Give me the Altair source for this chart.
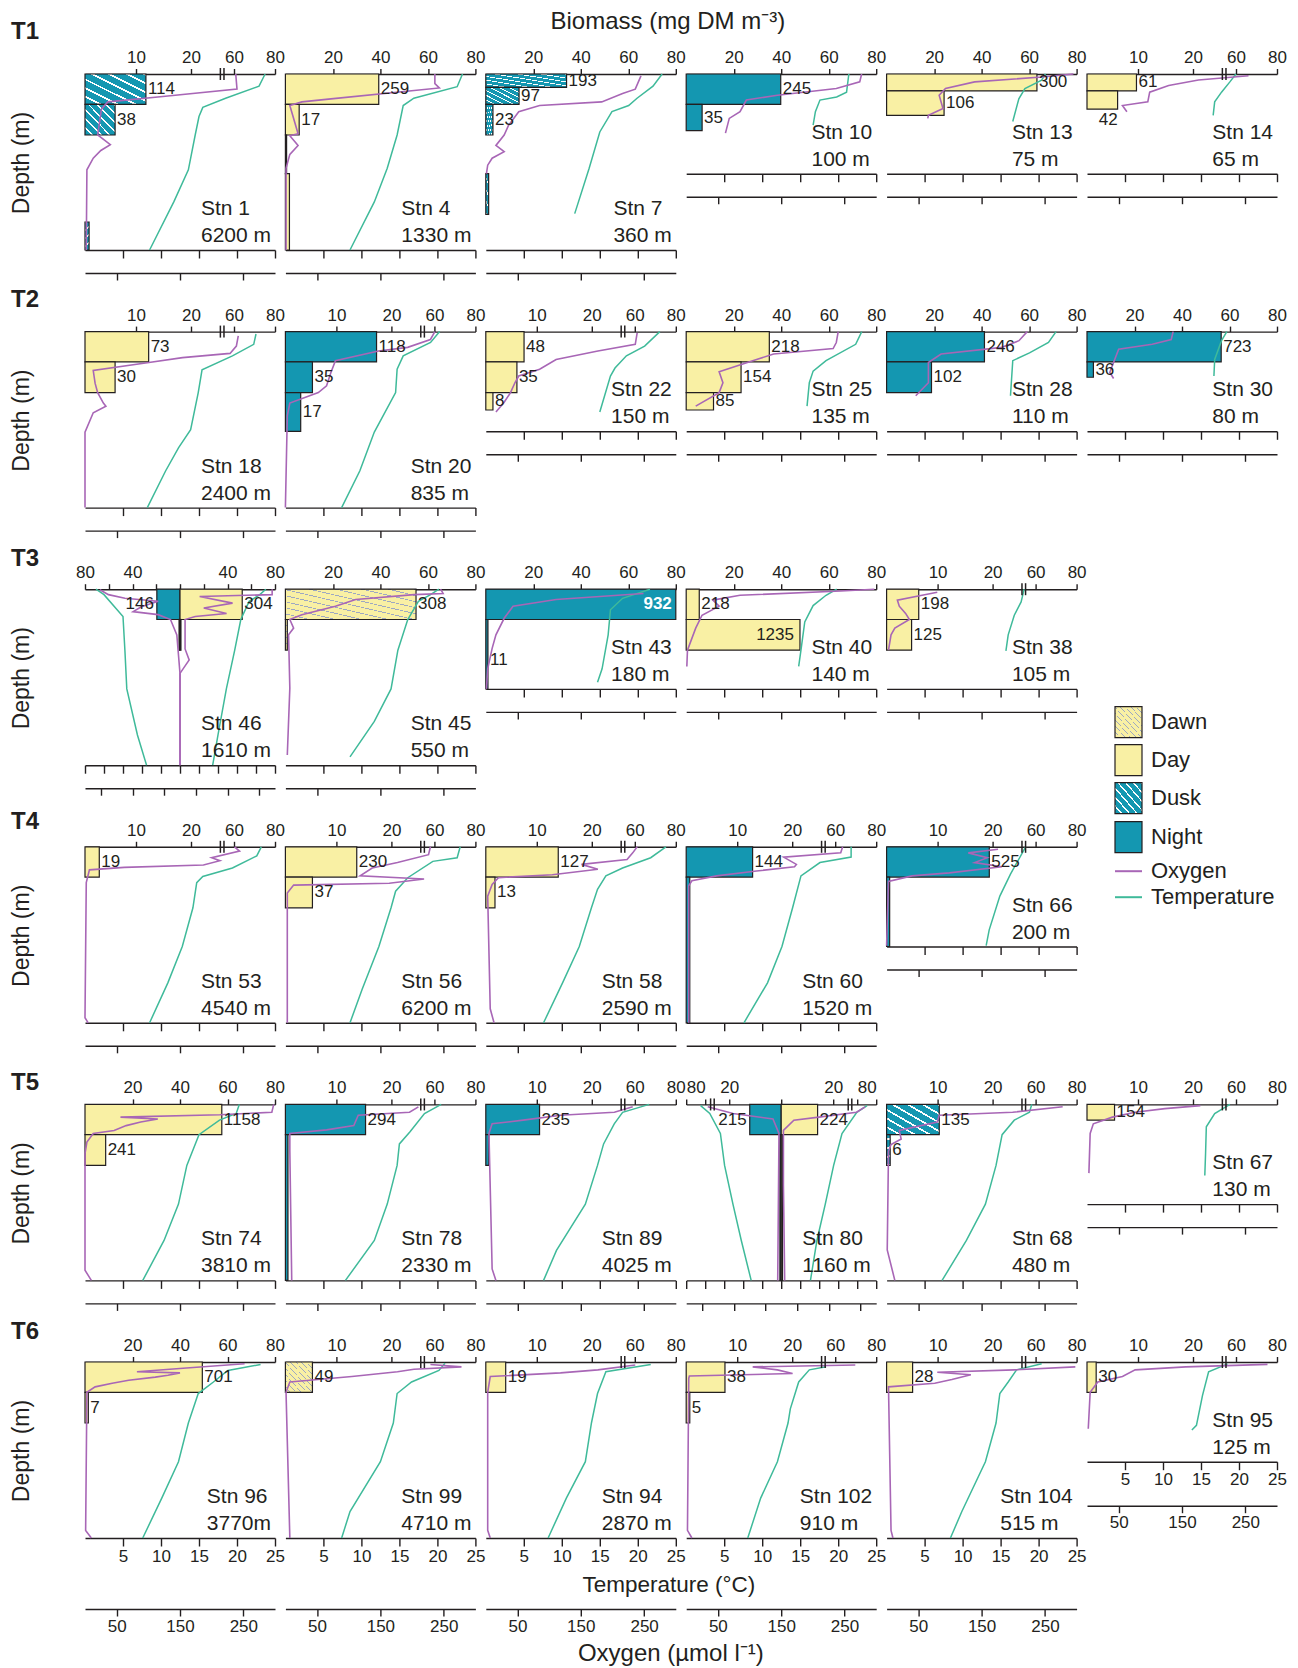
import altair as alt
import pandas as pd

FONT = "Liberation Sans"
INK = "#231f20"
DAY_C = "#f9f0a4"
NIGHT_C = "#1497b1"
OXY_C = "#a866b6"
TEMP_C = "#3fba9a"
HATCH_DAWN = "#9ea8c2"

# ------------------------------------------------------------------ data
ROW_LABELS = ["T1", "T2", "T3", "T4", "T5", "T6"]
ROW_STATIONS = [
    [1, 4, 7, 10, 13, 14],
    [18, 20, 22, 25, 28, 30],
    [46, 45, 43, 40, 38],
    [53, 56, 58, 60, 66],
    [74, 78, 89, 80, 68, 67],
    [96, 99, 94, 102, 104, 95],
]
BOTTOM_DEPTH = {
    1: "6200 m", 4: "1330 m", 7: "360 m", 10: "100 m", 13: "75 m", 14: "65 m",
    18: "2400 m", 20: "835 m", 22: "150 m", 25: "135 m", 28: "110 m", 30: "80 m",
    46: "1610 m", 45: "550 m", 43: "180 m", 40: "140 m", 38: "105 m",
    53: "4540 m", 56: "6200 m", 58: "2590 m", 60: "1520 m", 66: "200 m",
    74: "3810 m", 78: "2330 m", 89: "4025 m", 80: "1160 m", 68: "480 m", 67: "130 m",
    96: "3770m", 99: "4710 m", 94: "2870 m", 102: "910 m", 104: "515 m", 95: "125 m",
}
SHALLOW_STATIONS = [10, 13, 14, 22, 25, 28, 30, 43, 40, 38, 66, 67, 95]
LINEAR_AXIS_STATIONS = [4, 7, 10, 13, 25, 28, 30, 45, 43, 40, 74, 96]
MIRRORED_STATIONS = {46: "mlin", 80: "mbrk"}

# bars: (station, top depth, bottom depth, biomass, label, phase)
BARS_T1 = [
    (1, 0, 50, 11.8, "114", "Dusk"), (1, 50, 100, 5.9, "38", "Dusk"), (1, 390, 500, 0.8, "", "Dusk"),
    (4, 0, 50, 39.3, "259", "Day"), (4, 50, 100, 5.8, "17", "Day"), (4, 100, 200, 0.5, "", "Day"),
    (4, 200, 500, 1.7, "", "Day"),
    (7, 0, 22, 34.0, "193", "Dusk"), (7, 22, 50, 14.0, "97", "Dusk"), (7, 50, 100, 3.0, "23", "Dusk"),
    (7, 200, 360, 1.2, "", "Dusk"),
    (10, 0, 50, 39.8, "245", "Night"), (10, 50, 93, 6.7, "35", "Night"),
    (13, 0, 28, 63.3, "300", "Day"), (13, 28, 68, 24.2, "106", "Day"),
    (14, 0, 28, 9.7, "61", "Day"), (14, 28, 58, 6.0, "42", "Day"),
]
BARS_T2 = [
    (18, 0, 50, 12.3, "73", "Day"), (18, 50, 100, 5.9, "30", "Day"),
    (20, 0, 50, 17.3, "118", "Night"), (20, 50, 100, 5.3, "35", "Night"), (20, 100, 200, 3.0, "17", "Night"),
    (22, 0, 50, 7.5, "48", "Day"), (22, 50, 100, 6.1, "35", "Day"), (22, 100, 145, 1.4, "8", "Day"),
    (25, 0, 50, 35.0, "218", "Day"), (25, 50, 100, 23.1, "154", "Day"), (25, 100, 145, 11.5, "85", "Day"),
    (28, 0, 50, 41.2, "246", "Night"), (28, 50, 100, 18.9, "102", "Night"),
    (30, 0, 50, 56.5, "723", "Night"), (30, 50, 75, 2.7, "36", "Night"),
]
BARS_T3 = [
    (46, 0, 50, -19.5, "146", "Night"), (46, 0, 50, 52.4, "304", "Day"),
    (46, 50, 100, -0.8, "", "Night"), (46, 50, 100, 0.8, "", "Day"),
    (45, 0, 50, 55.0, "308", "Dawn"), (45, 50, 100, 0.8, "", "Dawn"),
    (43, 0, 50, 80.0, "932", "Night"), (43, 50, 200, 0.9, "11", "Night"),
    (40, 0, 50, 5.5, "218", "Day"), (40, 50, 100, 47.9, "1235", "Day"),
    (38, 0, 50, 6.3, "198", "Day"), (38, 50, 100, 4.9, "125", "Day"),
]
BARS_T4 = [
    (53, 0, 50, 2.8, "19", "Day"),
    (56, 0, 50, 13.7, "230", "Day"), (56, 50, 100, 5.3, "37", "Day"),
    (58, 0, 50, 13.9, "127", "Day"), (58, 50, 100, 1.8, "13", "Day"),
    (60, 0, 50, 12.8, "144", "Night"), (60, 50, 500, 0.7, "", "Night"),
    (66, 0, 50, 19.4, "525", "Night"), (66, 50, 200, 0.6, "", "Night"),
]
BARS_T5 = [
    (74, 0, 50, 57.6, "1158", "Day"), (74, 50, 100, 8.7, "241", "Day"),
    (78, 0, 50, 15.3, "294", "Night"), (78, 50, 500, 0.5, "", "Night"),
    (89, 0, 50, 10.5, "235", "Night"), (89, 50, 100, 0.6, "", "Night"),
    (80, 0, 50, -12.1, "215", "Night"), (80, 0, 50, 14.0, "224", "Day"),
    (80, 50, 500, -0.5, "", "Night"), (80, 50, 500, 0.5, "", "Day"),
    (68, 0, 50, 10.3, "135", "Dusk"), (68, 50, 100, 0.7, "6", "Dusk"),
    (67, 0, 26, 5.4, "154", "Day"),
]
BARS_T6 = [
    (96, 0, 50, 49.4, "701", "Day"), (96, 50, 100, 1.4, "7", "Day"),
    (99, 0, 50, 5.3, "49", "Dawn"),
    (94, 0, 50, 3.9, "19", "Day"),
    (102, 0, 50, 7.6, "38", "Day"), (102, 50, 100, 0.7, "5", "Day"),
    (104, 0, 50, 5.1, "28", "Day"),
    (95, 0, 50, 1.8, "30", "Day"),
]
LABEL_INSIDE = {(40, "1235"): "in", (43, "932"): "inw"}
LABEL_BELOW = [(14, "42")]

# oxygen profiles (depth m, umol/l)
O2_T1 = {
    1: [(0, 238), (25, 240), (38, 115), (46, 36), (58, 26), (100, 20), (125, 40), (140, 25), (160, 13), (190, 3), (500, 2)],
    4: [(0, 236), (16, 236), (23, 243), (41, 72), (46, 26), (52, 7), (98, 20), (102, 7), (127, 20), (150, 7), (186, 1), (500, 1)],
    7: [(3, 245), (25, 236), (32, 216), (46, 183), (52, 85), (62, 52), (84, 36), (100, 29), (127, 16), (143, 29), (160, 10), (178, 3), (200, 1)],
    10: [(0, 277), (13, 274), (24, 237), (35, 144), (43, 95), (62, 85), (73, 68), (97, 62)],
    13: [(0, 295), (5, 245), (13, 139), (24, 93), (35, 83), (57, 89), (68, 66), (73, 65)],
    14: [(3, 255), (10, 176), (19, 129), (30, 99), (46, 96), (52, 56), (62, 63)],
}
O2_T2 = {
    18: [(7, 242), (24, 239), (36, 229), (43, 154), (51, 101), (64, 13), (85, 16), (100, 20), (127, 29), (135, 33), (152, 13), (203, 0), (500, 0)],
    20: [(0, 236), (13, 229), (26, 193), (32, 147), (48, 79), (67, 72), (89, 65), (100, 52), (127, 7), (160, 3), (500, 0)],
    22: [(2, 239), (21, 236), (32, 177), (46, 111), (62, 85), (73, 52), (84, 46), (100, 39), (125, 29), (150, 16)],
    25: [(0, 240), (18, 237), (28, 232), (37, 138), (48, 105), (66, 52), (84, 58), (100, 52), (135, 15)],
    28: [(0, 222), (15, 209), (26, 182), (37, 86), (51, 66), (84, 66), (108, 46)],
    30: [(0, 136), (13, 133), (21, 103), (29, 50), (48, 43), (67, 36), (77, 42)],
}
O2_T3 = {
    46: [(0, 291), (9, 291), (12, 62), (23, 166), (31, 75), (40, 147), (45, 48), (50, 16), (98, 16), (125, 29), (160, 0), (500, 0)],
    45: [(0, 245), (7, 249), (9, 203), (17, 111), (28, 79), (42, 26), (50, 7), (64, 13), (75, 5), (198, 7), (460, 3)],
    43: [(7, 249), (17, 111), (28, 43), (48, 29), (75, 16), (97, 10), (148, 3), (200, 1)],
    40: [(0, 297), (3, 244), (10, 85), (18, 42), (28, 52), (43, 25), (64, 15), (100, 2), (142, 1)],
    38: [(5, 80), (10, 56), (18, 17), (28, 20), (40, 30), (50, 36), (64, 13), (75, 7), (100, 3)],
}
O2_T4 = {
    53: [(0, 236), (7, 244), (18, 200), (23, 213), (30, 187), (34, 62), (38, 7), (59, 2), (480, 0), (500, 5)],
    56: [(0, 229), (13, 226), (26, 177), (35, 137), (48, 118), (53, 219), (60, 164), (63, 13), (76, 3), (500, 3)],
    58: [(0, 239), (10, 232), (21, 223), (29, 151), (37, 177), (46, 105), (51, 20), (62, 10), (81, 3), (445, 7), (500, 13)],
    60: [(0, 247), (10, 244), (17, 154), (29, 174), (33, 171), (40, 111), (48, 48), (56, 9), (64, 4), (500, 4)],
    66: [(4, 176), (10, 129), (18, 159), (26, 139), (33, 182), (43, 99), (48, 40), (57, 3), (198, 0)],
}
O2_T5 = {
    74: [(0, 298), (13, 295), (17, 213), (21, 56), (24, 115), (29, 88), (35, 65), (43, 46), (48, 13), (62, 3), (81, 0), (460, 0), (500, 10)],
    78: [(4, 210), (13, 196), (18, 115), (35, 108), (42, 65), (48, 7), (76, 7), (500, 10)],
    89: [(4, 232), (13, 203), (18, 118), (26, 59), (32, 10), (48, 5), (455, 10), (500, 16)],
    80: [(4, 265), (13, 238), (21, 119), (26, 40), (43, 7), (150, 7), (500, 11)],
    68: [(4, 278), (13, 199), (18, 83), (29, 80), (43, 20), (57, 23), (66, 7), (77, 3), (380, 1), (500, 13)],
    67: [(2, 179), (7, 123), (13, 76), (21, 40), (32, 10), (48, 5), (120, 3)],
}
O2_T6 = {
    96: [(3, 252), (10, 160), (16, 82), (18, 150), (22, 131), (25, 111), (30, 69), (35, 43), (41, 16), (50, 3), (470, 1), (500, 10)],
    99: [(4, 229), (8, 278), (12, 203), (16, 177), (24, 105), (33, 7), (50, 1), (500, 7)],
    94: [(5, 236), (13, 177), (18, 118), (24, 7), (50, 3), (470, 3), (500, 7)],
    102: [(5, 267), (8, 105), (13, 144), (19, 168), (23, 5), (27, 4), (470, 2), (500, 9)],
    104: [(8, 298), (13, 202), (17, 80), (21, 133), (29, 103), (35, 76), (41, 3), (470, 7), (500, 10)],
    95: [(4, 285), (8, 156), (13, 76), (24, 56), (33, 17), (50, 5), (115, 2)],
}
# left-hand (night) halves of the mirrored panels
O2_MIRROR_LEFT = {
    46: [(1, 253), (9, 226), (15, 174), (20, 69), (29, 122), (37, 148), (42, 69), (50, 30), (75, 10), (160, 0), (500, 0)],
    80: [(4, 232), (15, 152), (24, 26), (48, 7), (500, 11)],
}

# temperature profiles (depth m, deg C)
TEMP_T1 = {
    1: [(0, 23.7), (20, 22.9), (40, 18.5), (55, 15.5), (70, 15), (100, 14.5), (190, 13.6), (310, 11.7), (500, 8.5)],
    4: [(0, 23.3), (21, 22.6), (40, 16.9), (52, 15.5), (100, 14.7), (186, 13.4), (311, 11.7), (500, 8.5)],
    7: [(0, 23.2), (20, 22), (40, 19.9), (52, 18.8), (62, 16.6), (95, 15), (186, 13.6), (357, 11.7)],
    10: [(0, 21.4), (30, 21.1), (38, 19.8), (43, 17.6), (62, 17), (84, 16.7)],
    13: [(0, 20.9), (10, 20.4), (24, 18.2), (41, 17.4), (78, 16.6)],
    14: [(0, 19.6), (13, 18.8), (30, 17.7), (46, 16.8), (68, 16.6)],
}
TEMP_T2 = {
    18: [(4, 22.5), (21, 22.2), (40, 19.4), (63, 15.4), (100, 14.9), (196, 13.9), (265, 12.3), (356, 10.6), (500, 8.2)],
    20: [(0, 20.3), (18, 19.1), (40, 15.5), (62, 14.7), (100, 14.5), (203, 11.7), (355, 9.8), (500, 7.4)],
    22: [(0, 22.9), (24, 20.9), (40, 18.5), (60, 17), (73, 16.4), (150, 15)],
    25: [(0, 23.1), (21, 22.3), (48, 18.4), (65, 16.7), (84, 16.2), (135, 15.9)],
    28: [(0, 22.3), (18, 21.3), (35, 18.8), (48, 16.6), (108, 16.3)],
    30: [(0, 18.4), (15, 17.7), (46, 16.8), (73, 16.7)],
}
TEMP_T3 = {
    46: [(0, 22.6), (9, 21), (20, 18.2), (50, 16), (100, 14.4), (200, 12.2), (381, 10), (500, 8.6)],
    45: [(0, 20.2), (9, 19.1), (20, 17.5), (50, 16.1), (100, 14.8), (200, 13.9), (328, 11.7), (467, 8.5)],
    43: [(0, 21.6), (15, 18), (34, 16.4), (75, 16.1), (148, 15.3), (183, 14.7)],
    40: [(0, 19.8), (10, 18.4), (27, 16.7), (54, 15.6), (100, 15.1), (142, 14.8)],
    38: [(0, 18.1), (21, 17.7), (43, 16.8), (75, 16), (102, 15.7)],
}
TEMP_T4 = {
    53: [(0, 23.2), (15, 22.6), (35, 19.4), (49, 15.5), (59, 14.7), (100, 14.2), (200, 12.8), (343, 10.9), (500, 8.5)],
    56: [(0, 23), (18, 22.6), (24, 19.4), (51, 16.1), (73, 14.5), (100, 13.9), (200, 12.3), (368, 10.1), (500, 8.5)],
    58: [(0, 23.7), (18, 21.7), (35, 18), (48, 15.8), (70, 14.7), (100, 13.9), (200, 12.3), (343, 10.1), (500, 7.6)],
    60: [(0, 21.7), (17, 21.7), (26, 17.6), (48, 15.1), (100, 14), (200, 12.6), (343, 10.7), (500, 7.6)],
    66: [(0, 18.3), (45, 16.3), (81, 14.9), (157, 13.5), (198, 13.1)],
}
TEMP_T5 = {
    74: [(0, 20.3), (15, 19.9), (26, 17.7), (50, 15), (100, 13.4), (200, 12.3), (343, 10.4), (500, 7.6)],
    78: [(0, 20.5), (15, 18.3), (45, 16.4), (65, 15), (100, 14.7), (200, 13.4), (343, 11.7), (500, 7.9)],
    89: [(0, 21.5), (13, 18), (32, 16.9), (65, 15.5), (100, 14.7), (200, 13.1), (382, 9.3), (500, 7.6)],
    80: [(2, 22.6), (13, 19.9), (48, 16), (100, 13.8), (200, 11.6), (343, 9.4), (500, 7.7)],
    68: [(0, 19.1), (13, 18.8), (26, 16.8), (50, 15.2), (100, 14.4), (200, 13), (343, 10.5), (500, 7.3)],
    67: [(0, 18.8), (15, 16.8), (37, 15.7), (81, 15.6), (126, 15.5)],
}
TEMP_T6 = {
    96: [(4, 23.1), (14, 18.8), (33, 16.9), (52, 14.9), (100, 13.6), (200, 12.3), (343, 10.1), (500, 7.6)],
    99: [(2, 21), (14, 20.2), (33, 16.6), (52, 14.7), (100, 14.2), (200, 12.5), (396, 8.5), (500, 7.4)],
    94: [(4, 21.7), (16, 15.8), (52, 14.7), (100, 13.9), (200, 13.1), (343, 10.6), (500, 8.2)],
    102: [(8, 18.4), (13, 16.2), (33, 14.8), (77, 13.7), (100, 13.4), (200, 12), (343, 9.8), (500, 8.1)],
    104: [(3, 20.4), (13, 17.1), (33, 16), (52, 14.9), (100, 14.4), (200, 13), (396, 9.9), (500, 8.4)],
    95: [(3, 18.5), (16, 16), (55, 15.2), (106, 14.4), (118, 13.8)],
}
TEMP_MIRROR_LEFT = {
    46: [(0, 22.1), (9, 20), (45, 15), (100, 14.5), (200, 14), (381, 11.2), (500, 8.8)],
    80: [(2, 21.2), (15, 18.8), (48, 16), (100, 14.9), (200, 12.7), (343, 10.5), (500, 7.9)],
}

LEGEND_ITEMS = ["Dawn", "Day", "Dusk", "Night", "Oxygen", "Temperature"]

# ------------------------------------------------------------------ helpers
O2 = {**O2_T1, **O2_T2, **O2_T3, **O2_T4, **O2_T5, **O2_T6}
TEMP = {**TEMP_T1, **TEMP_T2, **TEMP_T3, **TEMP_T4, **TEMP_T5, **TEMP_T6}

bar_df = pd.DataFrame(BARS_T1 + BARS_T2 + BARS_T3 + BARS_T4 + BARS_T5 + BARS_T6,
                      columns=["stn", "d0", "d1", "bio", "label", "phase"])
bar_df["base"] = 0.0
bar_df["mid"] = (bar_df.d0 + bar_df.d1) / 2


def label_mode(row):
    key = (row.stn, row.label)
    if key in LABEL_INSIDE:
        return LABEL_INSIDE[key]
    if key in LABEL_BELOW:
        return "below"
    return "left" if row.bio < 0 else "right"


bar_df["mode"] = bar_df.apply(label_mode, axis=1)

W = 190
ONE = pd.DataFrame({"a": [0]})

CW = {"S": 0.667, "t": 0.278, "n": 0.556, " ": 0.278, "m": 0.833}


def text_w(s, size):
    return sum(CW.get(ch, 0.556) for ch in s) * size


def stripes(base, line, n, w):
    stops = []
    for i in range(n):
        a = i / n
        b = (i + 1 - w) / n
        c = (i + 1) / n
        stops += [alt.GradientStop(offset=a, color=base), alt.GradientStop(offset=b, color=base),
                  alt.GradientStop(offset=b, color=line), alt.GradientStop(offset=c, color=line)]
    return alt.LinearGradient(gradient="linear", stops=stops, x1=0, y1=1, x2=1, y2=0)


DUSK_FILL = stripes(NIGHT_C, "#ffffff", 7, 0.22)
DAWN_FILL = stripes(DAY_C, HATCH_DAWN, 10, 0.14)

BIO = {
    "lin": ([0, 80], [0, 190], [20, 40, 60, 80], [], None),
    "brk": ([0, 10, 20, 60, 80], [0, 51, 106, 149, 190], [10, 20, 60, 80], [49], None),
    "mlin": ([-80, 80], [0, 190], list(range(-80, 81, 20)), [],
             "abs(datum.value) == 40 || abs(datum.value) == 80 ? '' + abs(datum.value) : ''"),
    "mbrk": ([-80, -60, -20, 0, 20, 60, 80], [0, 19, 43, 95, 147, 171, 190], [-80, -60, -20, 0, 20, 60, 80],
             [-48, 48], "abs(datum.value) == 20 || abs(datum.value) == 80 ? '' + abs(datum.value) : ''"),
}
ROW_LABEL_DY = [-35, -25, -23, -18, -14, -23]

AX = dict(domainColor=INK, tickColor=INK, labelColor=INK, titleColor=INK, domainWidth=1.4,
          tickWidth=1.4, grid=False, labelFont=FONT, titleFont=FONT)


def profile_frame(stn, source, left_source, mirror):
    rows = [(d, v, "R") for d, v in source[stn]]
    if mirror:
        rows += [(d, -v, "L") for d, v in left_source[stn]]
    return pd.DataFrame(rows, columns=["d", "v", "side"])


def panel(stn, r, c):
    shallow = stn in SHALLOW_STATIONS
    H = 99.7 if shallow else 176
    kind = MIRRORED_STATIONS.get(stn, "lin" if stn in LINEAR_AXIS_STATIONS else "brk")
    mirror = kind.startswith("m")
    bdom, brng, bticks, bbreaks, bexpr = BIO[kind]
    bscale = alt.Scale(domain=bdom, range=brng, nice=False, zero=False)
    if shallow:
        ys = alt.Scale(domain=[0, 50, 100, 200], range=[0, 30.3, 61, 99.7], nice=False, zero=False)
    else:
        ys = alt.Scale(domain=[0, 50, 100, 200, 500], range=[0, 30.3, 61, 99.7, 176], nice=False, zero=False)

    bax = dict(orient="top", values=bticks, tickSize=5.5, labelPadding=2, labelFontSize=17,
               labelFlush=(kind == "mbrk"), labelOverlap=False, title=None, **AX)
    if bexpr:
        bax["labelExpr"] = bexpr
    first = c == 0
    yax = alt.Axis(orient="left", values=[50, 100, 200] if shallow else [50, 100, 200, 500],
                   tickSize=9 if first else 4, labels=first, labelPadding=4, labelFontSize=17,
                   title=None, **AX)
    last_row = r == 5
    tdom = [-25, 25] if mirror else [0, 25]
    tvals = list(range(-25, 26, 5)) if mirror else [5, 10, 15, 20, 25]
    tax = alt.Axis(orient="bottom", values=tvals, tickSize=8, labels=last_row, labelPadding=2,
                   labelFontSize=17, labelFlush=False, labelOverlap=False, title=None, **AX)
    odom = [-300, 300] if mirror else [0, 300]
    ovals = [-250, -150, -50, 50, 150, 250] if mirror else [50, 150, 250]
    off = (44 if shallow else 71) if last_row else 23
    oax = alt.Axis(orient="bottom", offset=off, values=ovals, tickSize=7, labels=last_row,
                   labelPadding=2, labelFontSize=17, labelFlush=False, labelOverlap=False,
                   title=None, **AX)

    layers = []
    layers.append(alt.Chart(pd.DataFrame({"b": [0], "d": [0]})).mark_point(opacity=0).encode(
        x=alt.X("b:Q", scale=bscale, axis=alt.Axis(**bax)),
        y=alt.Y("d:Q", scale=ys, axis=yax)))

    bars = bar_df[bar_df.stn == stn]
    dn = bars[bars.phase.isin(["Day", "Night"])]
    if len(dn):
        layers.append(alt.Chart(dn).mark_rect(stroke=INK, strokeWidth=1.2).encode(
            x=alt.X("base:Q", scale=bscale, axis=None), x2="bio:Q",
            y=alt.Y("d0:Q", scale=ys, axis=None), y2="d1:Q",
            fill=alt.Fill("phase:N", scale=alt.Scale(domain=["Day", "Night"], range=[DAY_C, NIGHT_C]),
                          legend=None)))
    for ph, grad in (("Dusk", DUSK_FILL), ("Dawn", DAWN_FILL)):
        sub = bars[bars.phase == ph]
        if len(sub):
            layers.append(alt.Chart(sub).mark_rect(fill=grad, stroke=INK, strokeWidth=1.2).encode(
                x=alt.X("base:Q", scale=bscale, axis=None), x2="bio:Q",
                y=alt.Y("d0:Q", scale=ys, axis=None), y2="d1:Q"))

    tdf = profile_frame(stn, TEMP, TEMP_MIRROR_LEFT, mirror)
    layers.append(alt.Chart(tdf).mark_line(color=TEMP_C, strokeWidth=1.5).encode(
        x=alt.X("v:Q", scale=alt.Scale(domain=tdom, range=[0, W], nice=False, zero=False), axis=tax),
        y=alt.Y("d:Q", scale=ys, axis=None), order="d:Q", detail="side:N"))
    odf = profile_frame(stn, O2, O2_MIRROR_LEFT, mirror)
    layers.append(alt.Chart(odf).mark_line(color=OXY_C, strokeWidth=1.6).encode(
        x=alt.X("v:Q", scale=alt.Scale(domain=odom, range=[0, W], nice=False, zero=False), axis=oax),
        y=alt.Y("d:Q", scale=ys, axis=None), order="d:Q", detail="side:N"))

    if bbreaks:
        bdf = pd.DataFrame({"b": bbreaks})
        for dxo in (-1.8, 1.8):
            layers.append(alt.Chart(bdf).mark_rule(color=INK, strokeWidth=1.5, xOffset=dxo).encode(
                x=alt.X("b:Q", scale=bscale, axis=None), y=alt.value(-6), y2=alt.value(6)))

    labs = bars[bars.label != ""]
    styles = {
        "right": dict(align="left", baseline="middle", dx=2),
        "left": dict(align="right", baseline="middle", dx=-3),
        "in": dict(align="right", baseline="middle", dx=-6),
        "inw": dict(align="right", baseline="middle", dx=-4, color="white", fontWeight="bold"),
        "below": dict(align="right", baseline="top", dy=3),
    }
    for mode, st in styles.items():
        sub = labs[labs["mode"] == mode]
        if not len(sub):
            continue
        kw = dict(fontSize=17, color=INK)
        kw.update(st)
        yfield = "d1:Q" if mode == "below" else "mid:Q"
        layers.append(alt.Chart(sub).mark_text(**kw).encode(
            x=alt.X("bio:Q", scale=bscale, axis=None),
            y=alt.Y(yfield, scale=ys, axis=None), text="label:N"))

    l1, l2 = f"Stn {stn}", BOTTOM_DEPTH[stn]
    tx = W - 4 - max(text_w(l1, 21), text_w(l2, 21))
    layers.append(alt.Chart(ONE).mark_text(text=[l1, l2], align="left", baseline="alphabetic",
                                           fontSize=21, lineHeight=27, color=INK).encode(
        x=alt.value(tx), y=alt.value(H - 35)))

    if first:
        layers.append(alt.Chart(ONE).mark_text(text=ROW_LABELS[r], align="left", baseline="alphabetic",
                                               fontSize=24, fontWeight="bold", color=INK).encode(
            x=alt.value(-74), y=alt.value(ROW_LABEL_DY[r])))
        layers.append(alt.Chart(ONE).mark_text(text="Depth (m)", align="center", baseline="middle",
                                               angle=270, fontSize=23, color=INK).encode(
            x=alt.value(-63), y=alt.value(89)))
    if r == 0 and c == 2:
        layers.append(alt.Chart(ONE).mark_text(text="Biomass (mg DM m\u207b\u00b3)", align="center",
                                               baseline="alphabetic", fontSize=24, color=INK).encode(
            x=alt.value(182), y=alt.value(-45)))
    if r == 5 and c == 2:
        layers.append(alt.Chart(ONE).mark_text(text="Temperature (\u00b0C)", align="center",
                                               baseline="alphabetic", fontSize=22.5, color=INK).encode(
            x=alt.value(183), y=alt.value(H + 54)))
        layers.append(alt.Chart(ONE).mark_text(text="Oxygen (\u00b5mol l\u207b\u00b9)", align="center",
                                               baseline="alphabetic", fontSize=24, color=INK).encode(
            x=alt.value(185), y=alt.value(H + 123)))

    return alt.layer(*layers).resolve_scale(x="independent").properties(width=W, height=H)


def legend_cell():
    slots = alt.Scale(domain=[0, 1, 2, 3, 4, 5], range=[133, 171, 209, 248, 282, 308], nice=False, zero=False)
    df = pd.DataFrame({"item": LEGEND_ITEMS, "slot": list(range(6))})
    ly = []
    ly.append(alt.Chart(df[df.item.isin(["Day", "Night"])]).mark_rect(
        stroke=INK, strokeWidth=1.2, yOffset=-15.5, y2Offset=15.5).encode(
        x=alt.value(28), x2=alt.value(55), y=alt.Y("slot:Q", scale=slots, axis=None), y2="slot:Q",
        fill=alt.Fill("item:N", scale=alt.Scale(domain=["Day", "Night"], range=[DAY_C, NIGHT_C]), legend=None)))
    for it, grad in (("Dusk", DUSK_FILL), ("Dawn", DAWN_FILL)):
        ly.append(alt.Chart(df[df.item == it]).mark_rect(
            fill=grad, stroke=INK, strokeWidth=1.2, yOffset=-15.5, y2Offset=15.5).encode(
            x=alt.value(28), x2=alt.value(55), y=alt.Y("slot:Q", scale=slots, axis=None), y2="slot:Q"))
    for it, col in (("Oxygen", OXY_C), ("Temperature", TEMP_C)):
        ly.append(alt.Chart(df[df.item == it]).mark_rule(color=col, strokeWidth=2).encode(
            x=alt.value(28), x2=alt.value(55), y=alt.Y("slot:Q", scale=slots, axis=None)))
    ly.append(alt.Chart(df).mark_text(align="left", baseline="middle", fontSize=22, color=INK).encode(
        x=alt.value(64), y=alt.Y("slot:Q", scale=slots, axis=None), text="item:N"))
    return alt.layer(*ly).properties(width=W, height=176)


def empty_cell():
    return alt.Chart(ONE).mark_point(opacity=0).encode(
        x=alt.X("a:Q", axis=None), y=alt.Y("a:Q", axis=None)).properties(width=W, height=176)


cells = []
for r, stations in enumerate(ROW_STATIONS):
    for c, stn in enumerate(stations):
        cells.append(panel(stn, r, c))
    if len(stations) < 6:
        cells.append(legend_cell() if r == 2 else empty_cell())

chart = alt.concat(*cells, columns=6, spacing={"row": 81.6, "column": 10.4}, bounds="flush",
                   padding={"left": 3, "top": 2, "right": 2, "bottom": 1}).configure(
    font=FONT, view=alt.ViewConfig(stroke=None))

chart.save("out.html", embed_options={"renderer": "svg", "actions": False})
